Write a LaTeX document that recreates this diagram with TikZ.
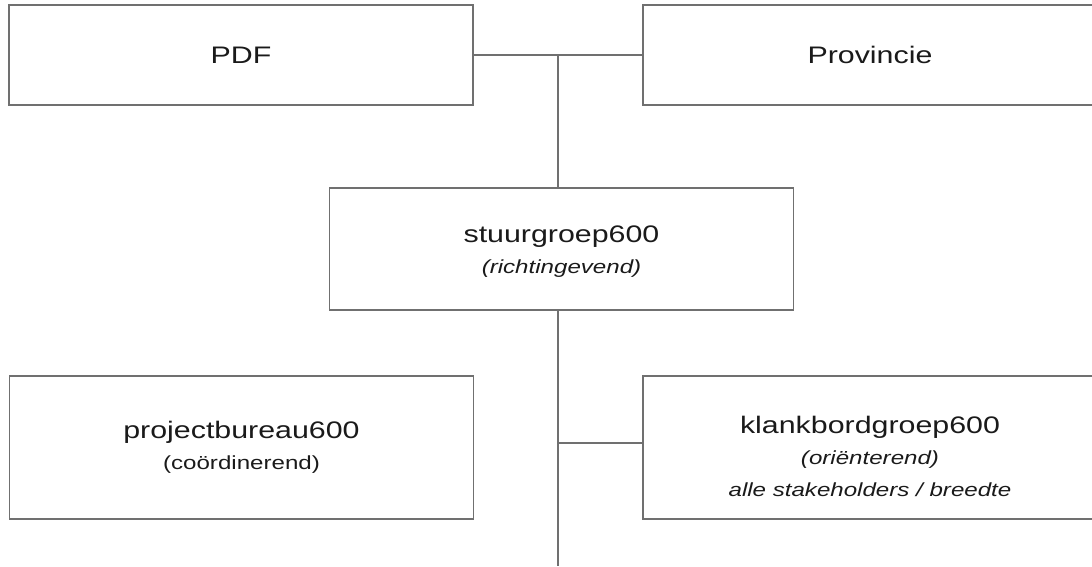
\documentclass[tikz,border=0pt]{standalone}
\usepackage{fontspec}
\setmainfont{Liberation Sans}[FakeStretch=1.27]
\usetikzlibrary{positioning,calc}

\definecolor{linegray}{HTML}{707070}
\definecolor{textgray}{HTML}{1A1A1A}

\newcommand{\subline}[1]{{\fontsize{13.5}{16.5}\selectfont #1}}

\begin{document}
\begin{tikzpicture}[x=0.025cm, y=-0.025cm, line width=1.2pt, draw=linegray,
    orgbox/.style={draw=linegray, rectangle, inner sep=0pt, align=center,
        text=textgray, font=\fontsize{17}{22}\selectfont},
    wide/.style={minimum width=11.6cm},
    small/.style={minimum height=2.5cm},
    mid/.style={minimum height=3.05cm},
    tall/.style={minimum height=3.575cm}]
\useasboundingbox (0,0) rectangle (1092,566);

    \node [orgbox, wide, small] (pdf) at (241,55) {PDF};
    \node [orgbox, minimum width=11.35cm, small] (prov) at (870,55) {Provincie};
    \node [orgbox, wide, mid] (stuur) at (561.5,249) {\rule{0pt}{16pt}stuurgroep600\\\subline{\itshape (richtingevend)}};
    \node [orgbox, wide, tall] (proj) at (241.5,447.5) {projectbureau600\\\subline{(co\"ordinerend)}};
    \node [orgbox, minimum width=11.35cm, tall] (klank) at (870,447.5)
        {\rule{0pt}{25pt}klankbordgroep600\\\subline{\itshape (ori\"enterend)}\\[1pt]\subline{\itshape alle stakeholders / breedte}};

    \coordinate (top) at (558,55);
    \coordinate (branch) at (558,443);
    \coordinate (bottom) at (558,566);

    \draw (pdf.east) -- (prov.west);
    \draw (top) -- (top |- stuur.north);
    \draw (stuur.south -| top) -- (bottom);
    \draw (branch) -- (klank.west |- branch);

\end{tikzpicture}
\end{document}
